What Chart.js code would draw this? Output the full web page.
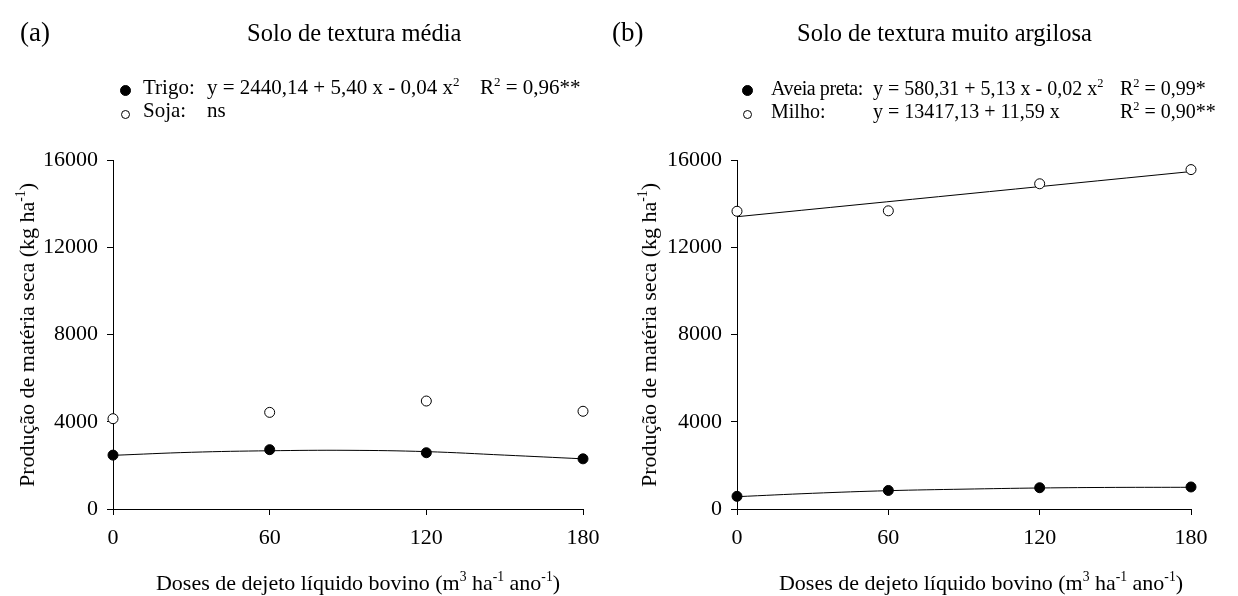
<!DOCTYPE html>
<html>
<head>
<meta charset="utf-8">
<script src="https://cdn.jsdelivr.net/npm/chart.js@4.4.1/dist/chart.umd.min.js"></script>
<style>
  body { margin: 0; background: #fff; width: 1238px; height: 596px; overflow: hidden; position: relative;
         font-family: "Liberation Serif", "Times New Roman", serif; color: #000; }
  canvas { position: absolute; top: 0; }
  .txt { position: absolute; white-space: nowrap; line-height: 1; }
  .ttl { font-size: 24.5px; }
  .lab { font-size: 27px; }
  .leg { font-size: 21px; }
  .leg.b { font-size: 20px; }
  .axt { font-size: 22px; }
  sup { font-size: 62%; vertical-align: 0; position: relative; top: -0.65em; }
  .dot { position: absolute; width: 9px; height: 9px; border-radius: 50%; border: 1px solid #000;
         box-sizing: border-box; }
  .dot.f { background: #000; width: 11px; height: 11px; }
</style>
</head>
<body>
<canvas id="chartA" width="620" height="596" style="left:0;width:620px;height:596px"></canvas>
<canvas id="chartB" width="618" height="596" style="left:620px;width:618px;height:596px"></canvas>

<div class="txt lab" style="left:20px;top:19px">(a)</div>
<div class="txt ttl" style="left:247px;top:21px">Solo de textura média</div>
<div class="txt lab" style="left:612px;top:19px">(b)</div>
<div class="txt ttl" style="left:797px;top:21px">Solo de textura muito argilosa</div>

<!-- legend (a) -->
<div class="dot f" style="left:120px;top:85px"></div>
<div class="txt leg" style="left:143px;top:77px">Trigo:</div>
<div class="txt leg" style="left:207px;top:77px">y = 2440,14 + 5,40 x - 0,04 x<sup>2</sup></div>
<div class="txt leg" style="left:480px;top:77px">R<sup>2</sup> = 0,96**</div>
<div class="dot" style="left:121px;top:110px"></div>
<div class="txt leg" style="left:143px;top:100px">Soja:</div>
<div class="txt leg" style="left:207px;top:100px">ns</div>

<!-- legend (b) -->
<div class="dot f" style="left:742px;top:85px"></div>
<div class="txt leg b" style="left:771px;top:78px;letter-spacing:-0.4px">Aveia preta:</div>
<div class="txt leg b" style="left:873px;top:78px">y = 580,31 + 5,13 x - 0,02 x<sup>2</sup></div>
<div class="txt leg b" style="left:1120px;top:78px">R<sup>2</sup> = 0,99*</div>
<div class="dot" style="left:743px;top:110px"></div>
<div class="txt leg b" style="left:771px;top:101px">Milho:</div>
<div class="txt leg b" style="left:873px;top:101px">y = 13417,13 + 11,59 x</div>
<div class="txt leg b" style="left:1120px;top:101px">R<sup>2</sup> = 0,90**</div>

<div class="txt axt" style="left:358px;top:583px;transform:translate(-50%,-50%)">Doses de dejeto líquido bovino (m<sup>3</sup> ha<sup>-1</sup> ano<sup>-1</sup>)</div>
<div class="txt axt" style="left:981px;top:583px;transform:translate(-50%,-50%)">Doses de dejeto líquido bovino (m<sup>3</sup> ha<sup>-1</sup> ano<sup>-1</sup>)</div>
<div class="txt axt" style="left:27px;top:335px;transform:translate(-50%,-50%) rotate(-90deg)">Produção de matéria seca (kg ha<sup>-1</sup>)</div>
<div class="txt axt" style="left:649px;top:335px;transform:translate(-50%,-50%) rotate(-90deg)">Produção de matéria seca (kg ha<sup>-1</sup>)</div>

<script>
// doses (m3 ha-1 ano-1)
const doses = [0, 60, 120, 180];
const fitDoses = [0, 30, 60, 90, 120, 150, 180];
const yTicks = [0, 4000, 8000, 12000, 16000];

// (a) solo de textura média
const trigo = [2470, 2720, 2580, 2300];
const soja = [4140, 4430, 4950, 4480];
const trigoFit = [2460, 2600, 2670, 2690, 2630, 2470, 2300];

// (b) solo de textura muito argilosa
const aveia = [580, 850, 975, 1010];
const milho = [13650, 13670, 14910, 15560];
const aveiaFit = [565, 720, 840, 910, 963, 990, 995];
const milhoFitDoses = [0, 180];
const milhoFit = [13400, 15470];

const FONT = { family: "'Liberation Serif', 'Times New Roman', serif", size: 22 };

function pts(xs, ys) {
  return xs.map((x, i) => ({ x, y: ys[i] }));
}

function dotSet(xs, ys, filled) {
  return {
    type: "scatter",
    data: pts(xs, ys),
    showLine: false,
    pointRadius: 5,
    pointBorderWidth: 1,
    pointBorderColor: "#000",
    pointBackgroundColor: filled ? "#000" : "#fff",
    clip: false,
    order: 0
  };
}

function fitSet(xs, ys) {
  return {
    type: "line",
    data: pts(xs, ys),
    borderColor: "#000",
    borderWidth: 1,
    pointRadius: 0,
    tension: 0.4,
    fill: false,
    clip: false,
    order: 1
  };
}

function makeChart(id, datasets, yWidth, padRight) {
  return new Chart(document.getElementById(id), {
    type: "scatter",
    data: { datasets },
    options: {
      responsive: false,
      animation: false,
      layout: { padding: { left: 0, right: padRight, top: 160, bottom: 0 } },
      plugins: { legend: { display: false }, tooltip: { enabled: false } },
      scales: {
        x: {
          type: "linear",
          min: 0,
          max: 180,
          afterBuildTicks: s => { s.ticks = doses.map(v => ({ value: v })); },
          afterFit: s => { s.height = 87; },
          grid: { drawOnChartArea: false, drawTicks: true, tickLength: 6, color: "#000" },
          border: { display: true, color: "#000", width: 1 },
          ticks: { color: "#000", font: FONT, padding: 10, maxRotation: 0 }
        },
        y: {
          min: 0,
          max: 16000,
          afterBuildTicks: s => { s.ticks = yTicks.map(v => ({ value: v })); },
          afterFit: s => { s.width = yWidth; },
          grid: { drawOnChartArea: false, drawTicks: true, tickLength: 6, color: "#000" },
          border: { display: true, color: "#000", width: 1 },
          ticks: { color: "#000", font: FONT, padding: 9, callback: v => String(v) }
        }
      }
    }
  });
}

makeChart("chartA", [
  dotSet(doses, trigo, true),
  dotSet(doses, soja, false),
  fitSet(fitDoses, trigoFit)
], 113, 37);

makeChart("chartB", [
  dotSet(doses, aveia, true),
  dotSet(doses, milho, false),
  fitSet(fitDoses, aveiaFit),
  fitSet(milhoFitDoses, milhoFit)
], 117, 47);
</script>
</body>
</html>
